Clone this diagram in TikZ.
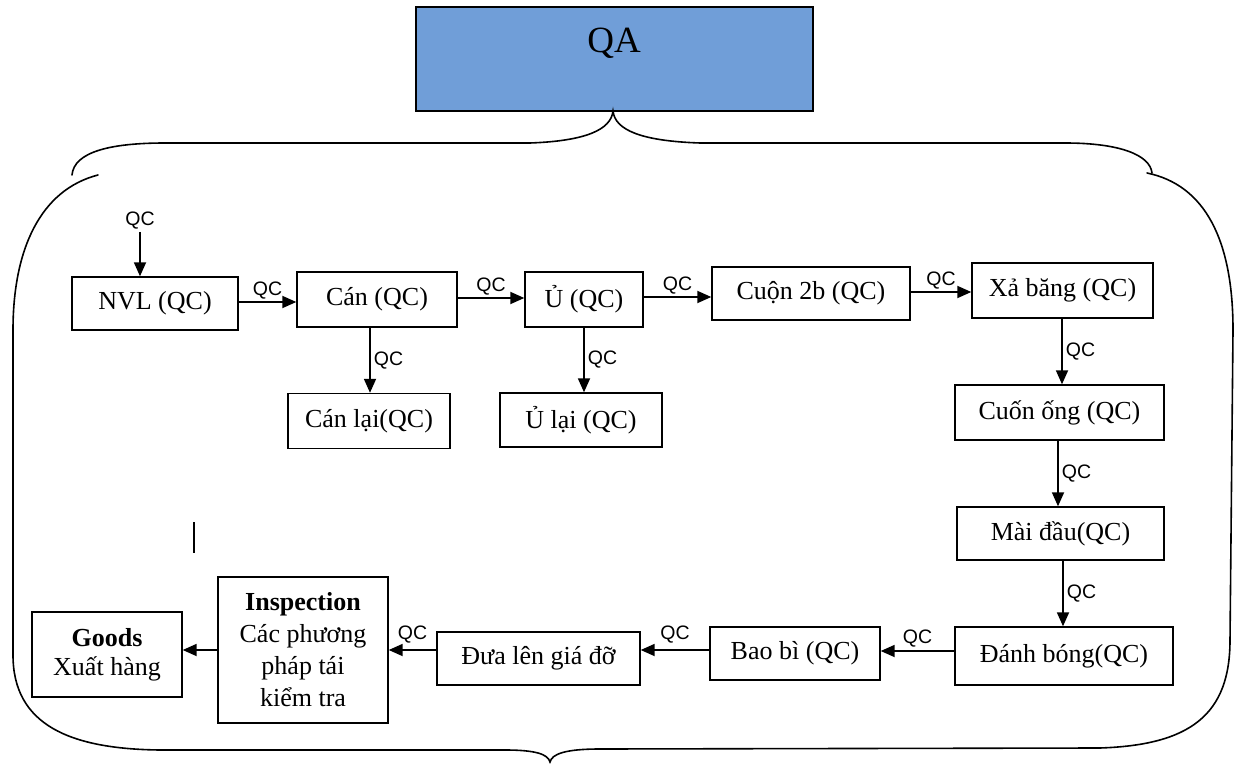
\documentclass[tikz,border=0pt]{standalone}
\usepackage{fontspec}
\setmainfont{Liberation Serif}
\newfontfamily\qcfont{Liberation Sans}
\usetikzlibrary{arrows.meta,calc}
\definecolor{qablue}{RGB}{112,158,216}
\tikzset{
  box/.style={draw, line width=1.4pt, inner sep=0pt, align=center,
    font=\fontsize{26}{32}\selectfont},
  qabox/.style={draw, line width=1.6pt, fill=qablue, inner sep=0pt},
  qc/.style={font=\qcfont\fontsize{19.5}{19.5}\selectfont, inner sep=2pt},
  flow/.style={line width=1.8pt, -{Triangle[length=14pt,width=12pt]}},
  brace/.style={line width=1.6pt, line cap=round}
}
\begin{document}
\begin{tikzpicture}[x=1pt,y=-1pt]
\useasboundingbox (0,0) rectangle (1239,767);
\fill[white] (0,0) rectangle (1239,767);

% QA box
\node[qabox, minimum width=397pt, minimum height=104pt] (qa) at (614.5,59) {};
\node[font=\fontsize{37}{37}\selectfont] (qat) at (614,43) {QA};

% brace outline
\draw[brace] (72,175) .. controls (74,152) and (110,143) .. (165,143)
  -- (530,143) .. controls (585,141) and (611,130) .. (613,111)
  .. controls (615,130) and (641,141) .. (700,143)
  -- (1065,143) .. controls (1120,143) and (1150,155) .. (1152,173);
\draw[brace] (98,175) .. controls (40,190) and (13,250) .. (13,330)
  -- (13,655) .. controls (13,725) and (70,749) .. (160,750)
  -- (505,750) .. controls (535,750) and (548,754) .. (550,762)
  .. controls (552,754) and (565,749) .. (600,749)
  -- (1100,748) .. controls (1190,745) and (1230,715) .. (1230,640)
  -- (1233,330) .. controls (1233,240) and (1205,185) .. (1147,173);

% stray mark
\draw[line width=2.6pt] (194,522) -- (194,553);

% boxes
\node[box, minimum width=166pt, minimum height=53pt] (nvl) at (155,303.5) {NVL (QC)};
\node[box, minimum width=160pt, minimum height=55pt] (can) at (377,299.5) {Cán (QC)};
\node[box, minimum width=118pt, minimum height=55pt] (u) at (584,299.5) {Ủ (QC)};
\node[box, minimum width=198pt, minimum height=53pt] (cuon) at (811,293.5) {Cuộn 2b (QC)};
\node[box, minimum width=181pt, minimum height=55pt] (xa) at (1062.5,290.5) {Xả băng (QC)};
\node[box, minimum width=209pt, minimum height=55pt] (cuonong) at (1059.5,412.5) {Cuốn ống (QC)};
\node[box, minimum width=207pt, minimum height=53pt] (mai) at (1060.5,533.5) {Mài đầu(QC)};
\node[box, minimum width=218pt, minimum height=58pt] (db) at (1064,656) {Đánh bóng(QC)};
\node[box, minimum width=170pt, minimum height=53pt] (bb) at (795,653.5) {Bao bì (QC)};
\node[box, minimum width=203pt, minimum height=53pt] (dua) at (538.5,658.5) {Đưa lên giá đỡ};
\node[box, minimum width=170pt, minimum height=146pt] (insp) at (303,650) {\textbf{Inspection}\\Các phương\\pháp tái\\kiểm tra};
\node[box, minimum width=150pt, minimum height=85pt, font=\fontsize{26}{29}\selectfont] (goods) at (107,654.5) {\textbf{Goods}\\Xuất hàng};
\node[box, minimum width=162pt, minimum height=55pt] (canlai) at (369,421) {Cán lại(QC)};
\node[box, minimum width=162pt, minimum height=54pt] (ulai) at (581,420) {Ủ lại (QC)};

% top QC input
\node[qc] (qctop) at (140,221) {QC};
\draw[flow] (qctop.south) -- (qctop.south |- nvl.north);

% horizontal flow
\draw[flow] (nvl.east |- 0,302) -- node[qc, above=0pt] {QC} (can.west |- 0,302);
\draw[flow] (can.east |- 0,298) -- node[qc, above=0pt] {QC} (u.west |- 0,298);
\draw[flow] (u.east |- 0,297) -- node[qc, above=0pt] {QC} (cuon.west |- 0,297);
\draw[flow] (cuon.east |- 0,292) -- node[qc, above=0pt] {QC} (xa.west |- 0,292);

% vertical flow
\draw[flow] (can.south -| 370,0) -- node[qc, right=1pt] {QC} (canlai.north -| 370,0);
\draw[flow] (u.south -| 584,0) -- node[qc, right=1pt] {QC} (ulai.north -| 584,0);
\draw[flow] (xa.south -| 1062,0) -- node[qc, right=1pt] {QC} (cuonong.north -| 1062,0);
\draw[flow] (cuonong.south -| 1058,0) -- node[qc, right=1pt] {QC} (mai.north -| 1058,0);
\draw[flow] (mai.south -| 1063,0) -- node[qc, right=1pt] {QC} (db.north -| 1063,0);

% bottom flow (right to left)
\draw[flow] (db.west |- 0,651) -- node[qc, above=1pt] {QC} (bb.east |- 0,651);
\draw[flow] (bb.west |- 0,650) -- node[qc, above=4pt] {QC} (dua.east |- 0,650);
\draw[flow] (dua.west |- 0,650) -- node[qc, above=4pt] {QC} (insp.east |- 0,650);
\draw[flow] (insp.west |- 0,650) -- (goods.east |- 0,650);
\end{tikzpicture}
\end{document}
